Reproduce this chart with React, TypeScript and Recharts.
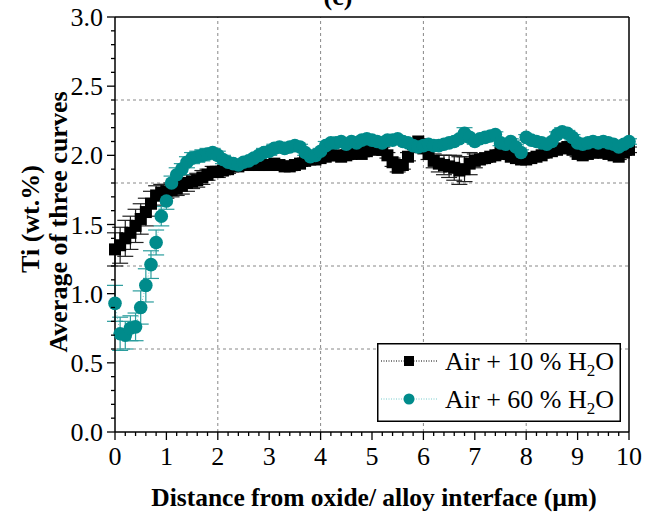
import React from "react";
import {
  ComposedChart,
  Line,
  XAxis,
  YAxis,
  ErrorBar,
  ReferenceLine,
  Legend,
} from "recharts";

// distance from the oxide/alloy interface (µm)
const distance = [
  0, 0.1, 0.2, 0.3, 0.4, 0.5, 0.6, 0.7, 0.8, 0.9,
  1, 1.1, 1.2, 1.3, 1.4, 1.5, 1.6, 1.7, 1.8, 1.9,
  2, 2.1, 2.2, 2.3, 2.4, 2.5, 2.6, 2.7, 2.8, 2.9,
  3, 3.1, 3.2, 3.3, 3.4, 3.5, 3.6, 3.7, 3.8, 3.9,
  4, 4.1, 4.2, 4.3, 4.4, 4.5, 4.6, 4.7, 4.8, 4.9,
  5, 5.1, 5.2, 5.3, 5.4, 5.5, 5.6, 5.7, 5.8, 5.9,
  6, 6.1, 6.2, 6.3, 6.4, 6.5, 6.6, 6.7, 6.8, 6.9,
  7, 7.1, 7.2, 7.3, 7.4, 7.5, 7.6, 7.7, 7.8, 7.9,
  8, 8.1, 8.2, 8.3, 8.4, 8.5, 8.6, 8.7, 8.8, 8.9,
  9, 9.1, 9.2, 9.3, 9.4, 9.5, 9.6, 9.7, 9.8, 9.9,
  10,
];

// Air + 10 % H2O
const ti10 = [
  1.32, 1.35, 1.4, 1.44, 1.49, 1.54, 1.59, 1.65, 1.71, 1.73,
  1.74, 1.75, 1.76, 1.78, 1.8, 1.81, 1.82, 1.84, 1.86, 1.88,
  1.88, 1.89, 1.9, 1.92, 1.92, 1.93, 1.93, 1.94, 1.93, 1.93,
  1.93, 1.94, 1.93, 1.92, 1.92, 1.93, 1.94, 1.96, 1.97, 1.97,
  1.98, 1.99, 2.0, 2.0, 1.99, 2.0, 2.01, 2.02, 2.01, 2.03,
  2.05, 2.04, 2.04, 2.0, 1.95, 1.91, 1.93, 1.99, 2.08, 2.1,
  2.05, 2.01, 1.96, 1.94, 1.93, 1.92, 1.91, 1.89, 1.9, 1.94,
  1.96, 1.97, 1.98, 1.99, 2.0, 2.02, 2.01, 1.99, 1.98, 1.97,
  1.97, 1.98, 1.99, 2.0, 2.02, 2.03, 2.04, 2.05, 2.06, 2.04,
  2.01, 2.0, 2.01, 2.02, 2.02, 2.02, 2.01, 2.0, 1.99, 2.02,
  2.04,
];
const err10 = [
  0.12, 0.13, 0.13, 0.12, 0.12, 0.11, 0.1, 0.09, 0.07, 0.06,
  0.05, 0.05, 0.05, 0.06, 0.06, 0.05, 0.05, 0.05, 0.04, 0.04,
  0.04, 0.03, 0.03, 0.02, 0.02, 0.03, 0.02, 0.02, 0.02, 0.02,
  0.02, 0.02, 0.02, 0.02, 0.03, 0.02, 0.02, 0.02, 0.02, 0.02,
  0.02, 0.02, 0.02, 0.02, 0.02, 0.03, 0.02, 0.02, 0.02, 0.02,
  0.02, 0.02, 0.02, 0.02, 0.03, 0.03, 0.03, 0.03, 0.03, 0.02,
  0.03, 0.04, 0.05, 0.06, 0.07, 0.08, 0.09, 0.1, 0.09, 0.08,
  0.05, 0.03, 0.03, 0.02, 0.02, 0.02, 0.02, 0.02, 0.02, 0.02,
  0.02, 0.02, 0.02, 0.02, 0.02, 0.02, 0.02, 0.02, 0.02, 0.02,
  0.02, 0.02, 0.02, 0.02, 0.02, 0.02, 0.02, 0.02, 0.02, 0.02,
  0.02,
];

// Air + 60 % H2O
const ti60 = [
  0.93, 0.71, 0.7, 0.75, 0.76, 0.9, 1.06, 1.21, 1.37, 1.56,
  1.67, 1.8, 1.86, 1.9, 1.95, 1.98, 1.99, 2.0, 2.01, 2.02,
  2.0, 1.97, 1.95, 1.94, 1.93, 1.95, 1.96, 1.98, 2.0, 2.02,
  2.03, 2.05, 2.06, 2.05, 2.06, 2.07, 2.06, 2.02, 1.99, 2.0,
  2.03, 2.07, 2.09, 2.09, 2.1, 2.08, 2.1, 2.09, 2.11, 2.12,
  2.11, 2.1, 2.09, 2.11, 2.11, 2.12, 2.1, 2.09, 2.07, 2.06,
  2.07, 2.08, 2.07, 2.07, 2.08, 2.09, 2.1, 2.12, 2.16, 2.13,
  2.1, 2.12, 2.13, 2.14, 2.15, 2.09, 2.08, 2.1, 2.06, 2.02,
  2.13, 2.11, 2.1, 2.09, 2.08, 2.1, 2.15, 2.17, 2.16, 2.13,
  2.09, 2.08, 2.09, 2.1, 2.09, 2.1, 2.09, 2.08, 2.06, 2.08,
  2.1,
];
const err60 = [
  0.13, 0.12, 0.1, 0.09, 0.1, 0.12, 0.12, 0.1, 0.09, 0.07,
  0.06, 0.05, 0.05, 0.04, 0.04, 0.04, 0.04, 0.04, 0.04, 0.03,
  0.03, 0.03, 0.03, 0.02, 0.02, 0.02, 0.02, 0.02, 0.02, 0.03,
  0.03, 0.03, 0.03, 0.03, 0.02, 0.02, 0.02, 0.02, 0.04, 0.02,
  0.02, 0.03, 0.02, 0.02, 0.02, 0.02, 0.02, 0.02, 0.02, 0.02,
  0.02, 0.02, 0.02, 0.02, 0.02, 0.02, 0.02, 0.02, 0.02, 0.02,
  0.02, 0.02, 0.02, 0.02, 0.02, 0.02, 0.02, 0.02, 0.04, 0.02,
  0.02, 0.02, 0.02, 0.02, 0.02, 0.02, 0.02, 0.02, 0.02, 0.02,
  0.02, 0.02, 0.02, 0.02, 0.02, 0.02, 0.02, 0.03, 0.02, 0.02,
  0.02, 0.02, 0.02, 0.02, 0.02, 0.02, 0.02, 0.02, 0.02, 0.02,
  0.02,
];

const xTicks = Array.from({ length: 51 }, (_, i) => +(i * 0.2).toFixed(1));
const yTicks = Array.from({ length: 31 }, (_, i) => +(i * 0.1).toFixed(1));
const gridX = [2, 4, 6, 8];
const gridY = [0.6, 1.2, 1.8, 2.4];

const FONT = '"Liberation Serif", "Times New Roman", serif';
const TEAL = "#008b8b";

const data10 = distance.map((x, i) => ({ x, y: ti10[i], err: err10[i] }));
const data60 = distance.map((x, i) => ({ x, y: ti60[i], err: err60[i] }));

const XTick = (props: any) => {
  const { x, y, payload } = props;
  const v = payload.value;
  const major = Math.abs(v - Math.round(v)) < 1e-6;
  return (
    <g>
      <line x1={x} x2={x} y1={y} y2={y + (major ? 8 : 4)} stroke="#000" strokeWidth={1.3} />
      {major && (
        <text x={x} y={y + 33} textAnchor="middle" fontFamily={FONT} fontSize={26} fill="#000">
          {v}
        </text>
      )}
    </g>
  );
};

const YTick = (props: any) => {
  const { x, y, payload } = props;
  const v = payload.value;
  const major = Math.abs(v * 2 - Math.round(v * 2)) < 1e-6;
  return (
    <g>
      <line x1={x - (major ? 8 : 4)} x2={x} y1={y} y2={y} stroke="#000" strokeWidth={1.3} />
      {major && (
        <text x={x - 12} y={y + 9} textAnchor="end" fontFamily={FONT} fontSize={26} fill="#000">
          {v.toFixed(1)}
        </text>
      )}
    </g>
  );
};

const squareDot = (props: any) => {
  const { cx, cy, index } = props;
  if (cx == null || cy == null) return <g key={`s${index}`} />;
  return <rect key={`s${index}`} x={cx - 6} y={cy - 6} width={12} height={12} fill="#000" />;
};

const circleDot = (props: any) => {
  const { cx, cy, index } = props;
  if (cx == null || cy == null) return <g key={`c${index}`} />;
  return <circle key={`c${index}`} cx={cx} cy={cy} r={6.8} fill={TEAL} />;
};

const LegendBox = () => (
  <svg width={244} height={79} style={{ display: "block" }}>
    <rect x={0.75} y={0.75} width={242.5} height={77.5} fill="#fff" stroke="#000" strokeWidth={1.5} />
    <line x1={4} x2={60} y1={18} y2={18} stroke="#000" strokeWidth={1} strokeDasharray="1 1.5" />
    <rect x={27} y={13} width={10} height={10} fill="#000" />
    <line x1={4} x2={60} y1={56} y2={56} stroke="#7cc" strokeWidth={1} strokeDasharray="1 1.5" />
    <circle cx={32} cy={56} r={5.5} fill={TEAL} />
    <text x={68} y={27} fontFamily={FONT} fontSize={26} fill="#000">
      Air + 10 % H<tspan dy={6} fontSize={17}>2</tspan><tspan dy={-6}>O</tspan>
    </text>
    <text x={68} y={65} fontFamily={FONT} fontSize={26} fill="#000">
      Air + 60 % H<tspan dy={6} fontSize={17}>2</tspan><tspan dy={-6}>O</tspan>
    </text>
  </svg>
);

export default function App() {
  return (
    <div style={{ position: "absolute", left: 0, top: 0, width: 656, height: 515, background: "#fff" }}>
      <ComposedChart width={656} height={515} margin={{ top: 17, right: 27, bottom: 0, left: 0 }}>
        {gridX.map((v) => (
          <ReferenceLine key={`gx${v}`} x={v} stroke="#888" strokeWidth={1} strokeDasharray="3 3" />
        ))}
        {gridY.map((v) => (
          <ReferenceLine key={`gy${v}`} y={v} stroke="#888" strokeWidth={1} strokeDasharray="3 3" />
        ))}
        <ReferenceLine x={10} stroke="#000" strokeWidth={1.5} />
        <ReferenceLine y={3} stroke="#000" strokeWidth={1.5} />
        <XAxis
          dataKey="x"
          type="number"
          domain={[0, 10]}
          ticks={xTicks}
          interval={0}
          tickSize={0}
          tickMargin={0}
          tick={<XTick />}
          height={83}
          axisLine={{ stroke: "#000", strokeWidth: 1.5 }}
          allowDuplicatedCategory={false}
        />
        <YAxis
          type="number"
          domain={[0, 3]}
          ticks={yTicks}
          interval={0}
          tickSize={0}
          tickMargin={0}
          tick={<YTick />}
          width={115}
          axisLine={{ stroke: "#000", strokeWidth: 1.5 }}
        />
        <Legend
          layout="horizontal"
          verticalAlign="middle"
          align="center"
          content={() => <LegendBox />}
          wrapperStyle={{ left: 377, top: 343, width: 244, height: 79 }}
        />
        <Line
          data={data10}
          dataKey="y"
          name="Air + 10 % H2O"
          stroke="#000"
          strokeWidth={1}
          strokeDasharray="1 2"
          dot={squareDot}
          activeDot={false}
          isAnimationActive={false}
        >
          <ErrorBar dataKey="err" direction="y" width={8} stroke="#222" strokeWidth={1.2} isAnimationActive={false} />
        </Line>
        <Line
          data={data60}
          dataKey="y"
          name="Air + 60 % H2O"
          stroke="#7cc"
          strokeWidth={1}
          strokeDasharray="1 2"
          dot={circleDot}
          activeDot={false}
          isAnimationActive={false}
        >
          <ErrorBar dataKey="err" direction="y" width={8} stroke="#2a9d9d" strokeWidth={1.2} isAnimationActive={false} />
        </Line>
      </ComposedChart>
      <svg
        width={656}
        height={515}
        style={{ position: "absolute", left: 0, top: 0, pointerEvents: "none" }}
      >
        <text x={338} y={5} textAnchor="middle" fontFamily={FONT} fontWeight="bold" fontSize={26} fill="#000">
          (c)
        </text>
        <text
          transform="translate(39 219) rotate(-90)"
          textAnchor="middle"
          fontFamily={FONT}
          fontWeight="bold"
          fontSize={26}
          fill="#000"
        >
          Ti (wt.%)
        </text>
        <text
          transform="translate(67 222) rotate(-90)"
          textAnchor="middle"
          fontFamily={FONT}
          fontWeight="bold"
          fontSize={26}
          fill="#000"
        >
          Average of three curves
        </text>
        <text x={374} y={506} textAnchor="middle" fontFamily={FONT} fontWeight="bold" fontSize={25.5} fill="#000">
          Distance from oxide/ alloy interface (µm)
        </text>
      </svg>
    </div>
  );
}
